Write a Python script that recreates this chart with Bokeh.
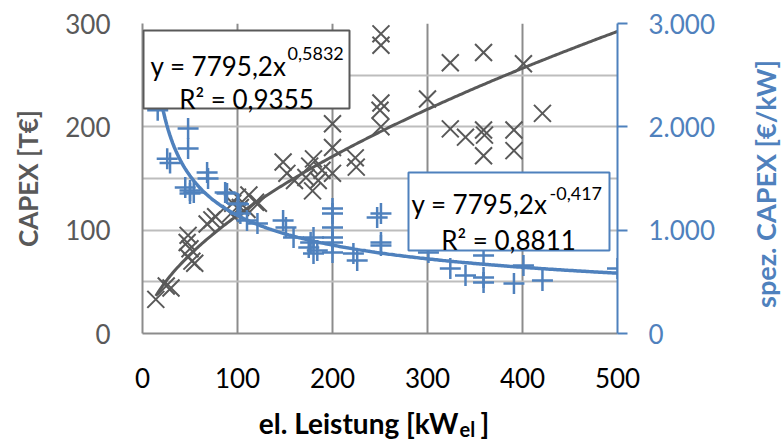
import numpy as np
from bokeh.plotting import figure
from bokeh.layouts import column, row
from bokeh.models import Range1d, LinearAxis, FixedTicker, Label, BoxAnnotation, Div
from bokeh.embed import file_html
from bokeh.resources import INLINE

# ---------------- data ----------------
# CAPEX [T€] over electrical power [kW_el]
capex_x = [14, 25, 30, 48, 47, 50, 48, 52, 55, 68, 73, 77,
           93, 95, 100, 103, 110, 112, 119, 122,
           148, 152, 160, 172, 176, 180, 179, 185, 189,
           200, 200, 200, 224, 225,
           251, 251, 251, 250, 251, 300,
           324, 324, 340, 359, 359, 360, 359,
           391, 391, 401, 421]
capex_y = [33, 46, 44, 95, 88, 82, 74, 70, 68, 106, 110, 113,
           116, 126, 132, 122, 120, 134, 127, 126,
           166, 155, 148, 151, 162, 169, 138, 148, 158,
           203, 180, 155, 170, 161,
           290, 279, 223, 216, 200, 227,
           262, 198, 190, 272, 197, 192, 172,
           197, 177, 261, 213]

# specific CAPEX [€/kW] over electrical power [kW_el]
spez_x = [16, 26, 29, 48, 48, 45, 50, 54, 50, 68, 69, 87, 89,
          100, 101, 103, 110, 121, 148, 151, 159, 177, 175, 180, 184, 180,
          200, 200, 200, 200, 200, 200, 222, 226,
          247, 251, 251, 251, 301, 324, 340, 359, 359, 359,
          391, 401, 421, 500]
spez_y = [2160, 1690, 1650, 1985, 1790, 1413, 1384, 1365, 1355, 1558, 1500, 1365, 1355,
          1258, 1250, 1162, 1094, 1065, 1094, 1026, 929, 881, 832, 929, 803, 774,
          1210, 1162, 1026, 929, 881, 784, 774, 707,
          1123, 1162, 881, 852, 784, 629, 561, 755, 542, 494,
          484, 658, 513, 629]

# power-law trend lines as printed on the chart: y = a * x^b
fit_a = 7795.2
fit_b_capex = 0.5832      # result in €, shown in T€
fit_b_spez = -0.417       # result in €/kW
fit_x_end = 500

x_ticks = [0, 100, 200, 300, 400, 500]
y_ticks = [0, 100, 200, 300]
y_grid_ticks = [0, 50, 100, 150, 200, 250, 300]
spez_ticks = [0, 1000, 2000, 3000]
spez_tick_labels = ["0", "1.000", "2.000", "3.000"]

eq1_main, eq1_sup, eq1_r2 = "y = 7795,2x", "0,5832", "R² = 0,9355"
eq2_main, eq2_sup, eq2_r2 = "y = 7795,2x", "-0,417", "R² = 0,8811"

y_title = "CAPEX [T€]"
y2_title = "spez. CAPEX [€/kW]"
x_title_main, x_title_sub, x_title_end = "el. Leistung [kW", "el", "]"

# ---------------- styling ----------------
GRAY = "#595959"
BLUE = "#4f81bd"
FONT = "Lato"

W, H = 783, 439
W_RT = 32                      # strip holding the right axis title
W_P = W - W_RT
H_MAIN, H_SUB = 400, 39
L, R, T, B = 142, 134, 23, 67
XMAX, YMAX, Y2MAX = 500, 300, 3000
FW, FH = W_P - L - R, H_MAIN - T - B


def px2x(px):
    return (px - L) / FW * XMAX


def px2y(py):
    return (H_MAIN - B - py) / FH * YMAX


p = figure(width=W_P, height=H_MAIN, output_backend="svg", toolbar_location=None,
           x_range=Range1d(0, XMAX), y_range=Range1d(0, YMAX), title=None,
           min_border_left=L, min_border_right=R, min_border_top=T, min_border_bottom=B,
           tools="")
p.outline_line_color = None
p.extra_y_ranges = {"spez": Range1d(0, Y2MAX)}

# grids
p.xgrid.ticker = FixedTicker(ticks=x_ticks)
p.xgrid.grid_line_color = "#8c8c8c"
p.xgrid.grid_line_width = 2
p.ygrid.ticker = FixedTicker(ticks=y_grid_ticks)
p.ygrid.grid_line_color = "#bdbdbd"
p.ygrid.grid_line_width = 2

# x axis
xa = p.xaxis[0]
xa.ticker = FixedTicker(ticks=x_ticks)
xa.axis_line_color = "#8c8c8c"
xa.axis_line_width = 2
xa.major_tick_line_color = None
xa.minor_tick_line_color = None
xa.major_tick_out = 0
xa.major_tick_in = 0
xa.major_label_standoff = 34
xa.major_label_text_font = FONT
xa.major_label_text_font_size = "26px"
xa.major_label_text_color = "black"

# left axis
ya = p.yaxis[0]
ya.ticker = FixedTicker(ticks=y_ticks)
ya.axis_line_color = "#8c8c8c"
ya.axis_line_width = 2
ya.major_tick_line_color = None
ya.minor_tick_line_color = None
ya.major_tick_out = 0
ya.major_tick_in = 0
ya.major_label_standoff = 32
ya.major_label_text_font = FONT
ya.major_label_text_font_size = "26px"
ya.major_label_text_color = GRAY
ya.axis_label = y_title
ya.axis_label_text_font = FONT
ya.axis_label_text_font_size = "26px"
ya.axis_label_text_font_style = "bold"
ya.axis_label_text_color = GRAY
ya.axis_label_standoff = 18

# right axis
ra = LinearAxis(y_range_name="spez", ticker=FixedTicker(ticks=spez_ticks),
                major_label_overrides={t: s for t, s in zip(spez_ticks, spez_tick_labels)})
ra.axis_line_color = BLUE
ra.axis_line_width = 2
ra.major_tick_line_color = BLUE
ra.major_tick_line_width = 2
ra.major_tick_out = 10
ra.major_tick_in = 0
ra.minor_tick_line_color = None
ra.major_label_standoff = 21
ra.major_label_text_font = FONT
ra.major_label_text_font_size = "26px"
ra.major_label_text_color = BLUE
p.add_layout(ra, "right")

# data
p.scatter(capex_x, capex_y, marker="x", size=24, line_color=GRAY, line_width=2)
xc = np.linspace(min(capex_x), fit_x_end, 300)
p.line(xc, fit_a * xc ** fit_b_capex / 1000, line_color=GRAY, line_width=3)

p.scatter(spez_x, spez_y, marker="cross", size=21, line_color=BLUE, line_width=2.5,
          y_range_name="spez")
xs = np.linspace(min(capex_x), fit_x_end, 300)
p.line(xs, fit_a * xs ** fit_b_spez, line_color=BLUE, line_width=3.5, y_range_name="spez")

# equation boxes
p.add_layout(BoxAnnotation(left=px2x(143), right=px2x(349), top=px2y(30), bottom=px2y(108),
                           fill_color="white", fill_alpha=1, line_color=GRAY, line_width=2,
                           line_alpha=1))
p.add_layout(BoxAnnotation(left=px2x(408), right=px2x(609), top=px2y(172), bottom=px2y(250),
                           fill_color="white", fill_alpha=1, line_color=BLUE, line_width=2,
                           line_alpha=1))


def lab(fig, fx, fy, text, px, py, size, align="left", color="black", bold=False):
    fig.add_layout(Label(x=fx(px), y=fy(py), text=text, text_font=FONT,
                         text_font_size=f"{size}px", text_align=align,
                         text_baseline="alphabetic", text_color=color,
                         text_font_style="bold" if bold else "normal"))


lab(p, px2x, px2y, eq1_main, 286, 65, 26, align="right")
lab(p, px2x, px2y, eq1_sup, 287, 53, 18)
lab(p, px2x, px2y, eq1_r2, 246, 98, 26, align="center")
lab(p, px2x, px2y, eq2_main, 547, 203, 26, align="right")
lab(p, px2x, px2y, eq2_sup, 549, 193, 18)
lab(p, px2x, px2y, eq2_r2, 508, 239, 26, align="center")

# ---------------- x-axis title strip (its frame is aligned with the plot frame) ----------------
q = figure(width=W_P, height=H_SUB, output_backend="svg", toolbar_location=None,
           x_range=Range1d(0, XMAX), y_range=Range1d(0, H_SUB), tools="", title=None,
           x_axis_location=None, y_axis_location=None,
           min_border_left=L, min_border_right=R, min_border_top=0, min_border_bottom=0)
q.outline_line_color = None
q.xgrid.visible = False
q.ygrid.visible = False


def qy(py):
    return H - py


lab(q, px2x, qy, x_title_main, 458, 422, 28, align="right", bold=True)
lab(q, px2x, qy, x_title_sub, 459, 428, 20, bold=True)
lab(q, px2x, qy, x_title_end, 480, 422, 28, bold=True)

# ---------------- right axis title (reads bottom to top) ----------------
rt = Div(
    text=(f'<div style="position:relative;width:{W_RT}px;height:{H}px;overflow:visible;">'
          f'<span style="position:absolute;left:{W_RT / 2 - 2}px;top:184px;'
          f'transform:translate(-50%,-50%) rotate(-90deg);'
          f'font-family:{FONT};font-weight:bold;font-size:27px;color:{BLUE};'
          f'white-space:nowrap;line-height:1;">{y2_title}</span></div>'),
    width=W_RT, height=H, margin=0, styles={"overflow": "visible"})

layout = row(column(p, q, spacing=0), rt, spacing=0)
open("out.html", "w").write(file_html(layout, INLINE))
